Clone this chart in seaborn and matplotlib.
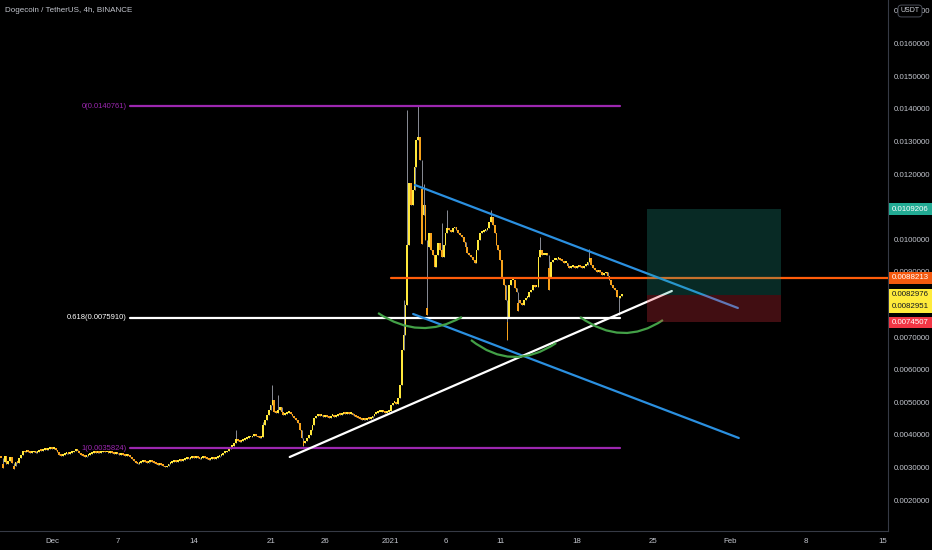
import numpy as np
import pandas as pd
import matplotlib
matplotlib.use('Agg')
import matplotlib.pyplot as plt
import matplotlib.dates as mdates
from matplotlib import transforms
from matplotlib.patches import Rectangle, PathPatch
from matplotlib.path import Path
import seaborn as sns

# DOGE/USDT 4h closes, one row per day (first row starts Nov 26 08:00)
closes = [
    0.00329, 0.00317, 0.00335, 0.00311,
    0.00320, 0.00332, 0.00314, 0.00305, 0.00317, 0.00314,  # Nov 27
    0.00329, 0.00338, 0.00351, 0.00347, 0.00354, 0.00347,
    0.00344, 0.00347, 0.00351, 0.00344, 0.00347, 0.00354,
    0.00351, 0.00354, 0.00357, 0.00354, 0.00357, 0.00360,
    0.00357, 0.00360, 0.00354, 0.00347, 0.00338, 0.00335,  # Dec 1
    0.00338, 0.00341, 0.00344, 0.00341, 0.00344, 0.00347,
    0.00351, 0.00354, 0.00351, 0.00344, 0.00338, 0.00335,
    0.00332, 0.00335, 0.00338, 0.00341, 0.00344, 0.00347,
    0.00344, 0.00347, 0.00344, 0.00347, 0.00351, 0.00347,
    0.00347, 0.00344, 0.00347, 0.00344, 0.00341, 0.00344,
    0.00341, 0.00338, 0.00341, 0.00338, 0.00335, 0.00338,  # Dec 7
    0.00335, 0.00332, 0.00326, 0.00320, 0.00314, 0.00311,
    0.00314, 0.00317, 0.00320, 0.00317, 0.00314, 0.00317,
    0.00320, 0.00317, 0.00314, 0.00311, 0.00308, 0.00311,
    0.00308, 0.00305, 0.00301, 0.00305, 0.00311, 0.00314,
    0.00317, 0.00320, 0.00317, 0.00320, 0.00323, 0.00320,
    0.00323, 0.00326, 0.00329, 0.00326, 0.00329, 0.00332,
    0.00329, 0.00332, 0.00329, 0.00326, 0.00329, 0.00332,  # Dec 14
    0.00329, 0.00326, 0.00323, 0.00326, 0.00329, 0.00326,
    0.00329, 0.00332, 0.00335, 0.00338, 0.00344, 0.00347,
    0.00351, 0.00357, 0.00363, 0.00366, 0.00375, 0.00387,
    0.00381, 0.00378, 0.00381, 0.00384, 0.00387, 0.00390,
    0.00393, 0.00393, 0.00397, 0.00400, 0.00397, 0.00393,
    0.00390, 0.00393, 0.00430, 0.00446, 0.00461, 0.00476,
    0.00492, 0.00507, 0.00470, 0.00467, 0.00476, 0.00485,  # Dec 21
    0.00470, 0.00461, 0.00464, 0.00467, 0.00470, 0.00464,
    0.00458, 0.00452, 0.00446, 0.00436, 0.00415, 0.00390,
    0.00375, 0.00381, 0.00390, 0.00400, 0.00415, 0.00430,
    0.00452, 0.00458, 0.00461, 0.00458, 0.00461, 0.00455,
    0.00458, 0.00455, 0.00452, 0.00458, 0.00461, 0.00455,
    0.00458, 0.00464, 0.00461, 0.00464, 0.00467, 0.00464,
    0.00467, 0.00464, 0.00467, 0.00461, 0.00458, 0.00455,  # Dec 28
    0.00452, 0.00449, 0.00446, 0.00449, 0.00446, 0.00452,
    0.00449, 0.00452, 0.00458, 0.00464, 0.00467, 0.00470,
    0.00470, 0.00473, 0.00470, 0.00467, 0.00470, 0.00473,
    0.00492, 0.00498, 0.00498, 0.00495, 0.00513, 0.00553,  # Jan 1
    0.00660, 0.00706, 0.00798, 0.00982, 0.01172, 0.01105,
    0.01151, 0.01222, 0.01304, 0.01314, 0.01243, 0.01074,
    0.01105, 0.00998, 0.00976, 0.01019, 0.00967, 0.00952,
    0.00915, 0.00952, 0.00988, 0.00967, 0.00946, 0.00982,
    0.01019, 0.01034, 0.01028, 0.01022, 0.01034, 0.01038,
    0.01028, 0.01019, 0.01013, 0.01007, 0.00992, 0.00976,
    0.00958, 0.00952, 0.00946, 0.00936, 0.00927, 0.00967,  # Jan 8
    0.00998, 0.01019, 0.01022, 0.01025, 0.01028, 0.01034,
    0.01053, 0.01068, 0.01044, 0.01019, 0.00982, 0.00967,
    0.00936, 0.00884, 0.00860, 0.00814, 0.00758, 0.00860,
    0.00875, 0.00875, 0.00850, 0.00838, 0.00814, 0.00804,
    0.00798, 0.00814, 0.00820, 0.00823, 0.00838, 0.00844,
    0.00860, 0.00854, 0.00854, 0.00946, 0.00967, 0.00952,
    0.00952, 0.00958, 0.00952, 0.00884, 0.00930, 0.00936,  # Jan 15
    0.00936, 0.00939, 0.00942, 0.00936, 0.00933, 0.00927,
    0.00927, 0.00918, 0.00912, 0.00915, 0.00918, 0.00912,
    0.00915, 0.00918, 0.00915, 0.00912, 0.00918, 0.00921,
    0.00930, 0.00942, 0.00921, 0.00912, 0.00906, 0.00900,
    0.00906, 0.00900, 0.00890, 0.00896, 0.00900, 0.00887,
    0.00875, 0.00860, 0.00850, 0.00844, 0.00823, 0.00820,
    0.00826, 0.0082976,  # Jan 22
]
first_open = 0.00330

wick_high = {
    '2020-12-17 20:00': 0.00415, '2020-12-20 08:00': 0.00440,
    '2020-12-21 04:00': 0.00553, '2020-12-21 16:00': 0.00522,
    '2021-01-02 04:00': 0.00815, '2021-01-02 12:00': 0.01396,
    '2021-01-03 12:00': 0.0140761, '2021-01-04 00:00': 0.01170,
    '2021-01-05 16:00': 0.01050, '2021-01-06 04:00': 0.01090,
    '2021-01-10 04:00': 0.01090, '2021-01-14 16:00': 0.01007,
    '2021-01-19 04:00': 0.00970,
}
wick_low = {
    '2020-11-26 12:00': 0.00299, '2020-11-27 12:00': 0.00295,
    '2020-12-24 00:00': 0.00366, '2021-01-03 20:00': 0.00985,
    '2021-01-04 08:00': 0.00768, '2021-01-11 16:00': 0.00691,
    '2021-01-12 16:00': 0.00781, '2021-01-15 12:00': 0.00844,
    '2021-01-21 20:00': 0.00768,
}

fib_names = ['0', '0.618', '1']
fib_prices = [0.0140761, 0.0075910, 0.0035824]
fib_span = ['2020-12-08 03:00', '2021-01-22 00:00']

hline_price = 0.0088213
hline_start = '2021-01-01 01:00'

# trend lines: (start date, start price, end date, end price)
blue_upper = ('2021-01-03 05:00', 0.011663, '2021-02-01 18:00', 0.007891)
blue_lower = ('2021-01-03 01:00', 0.007707, '2021-02-01 20:00', 0.003904)
white_rise = ('2020-12-22 18:00', 0.003321, '2021-01-26 17:00', 0.008412)

# arcs: left end, lowest point, right end
arcs = [
    [('2020-12-30 20:00', 0.007737), ('2021-01-03 16:00', 0.007277), ('2021-01-07 12:00', 0.007615)],
    [('2021-01-08 08:00', 0.006909), ('2021-01-12 04:00', 0.006388), ('2021-01-16 03:00', 0.006817)],
    [('2021-01-18 07:30', 0.007615), ('2021-01-22 03:30', 0.007124), ('2021-01-25 21:30', 0.007522)],
]

pos_span = ['2021-01-24 10:00', '2021-02-05 17:00']
pos_target, pos_entry, pos_stop = 0.0109206, 0.0082976, 0.0074507
last_prices = [0.0082976, 0.0082951]

tick_days = ['2020-12-01', '2020-12-07', '2020-12-14', '2020-12-21', '2020-12-26',
             '2021-01-01', '2021-01-06', '2021-01-11', '2021-01-18', '2021-01-25',
             '2021-02-01', '2021-02-08', '2021-02-15']
tick_labels = ['Dec', '7', '14', '21', '26', '2021', '6', '11', '18', '25', 'Feb', '8', '15']
price_ticks = [0.002, 0.003, 0.004, 0.005, 0.006, 0.007, 0.008, 0.009, 0.010,
               0.011, 0.012, 0.013, 0.014, 0.015, 0.016, 0.017]

BG = '#000000'
TXT = '#c3c6ce'
sns.set_theme(style='dark', rc={'axes.facecolor': BG, 'figure.facecolor': BG,
                                'axes.edgecolor': '#2a2e39', 'axes.grid': False})
plt.rcParams['font.family'] = ['Liberation Sans', 'DejaVu Sans']
FS = 5.7

fig = plt.figure(figsize=(9.32, 5.5), dpi=100)
ax = fig.add_axes([0, 19 / 550, 888 / 932, 531 / 550])


def dn(s):
    return mdates.date2num(pd.Timestamp(s))


dates = pd.date_range('2020-11-26 08:00', periods=len(closes), freq='4h')
x = mdates.date2num(dates)
c = np.array(closes)
o = np.concatenate([[first_open], c[:-1]])
hi = np.maximum(o, c)
lo = np.minimum(o, c)
for k, v in wick_high.items():
    i = dates.get_loc(pd.Timestamp(k))
    hi[i] = max(hi[i], v)
for k, v in wick_low.items():
    i = dates.get_loc(pd.Timestamp(k))
    lo[i] = min(lo[i], v)

up = c >= o
cols = np.where(up, '#ffe83b', '#f7a21b')
ax.vlines(x, lo, hi, color='#8a8d96', linewidth=0.7, zorder=2)
ax.bar(x, np.maximum(np.abs(c - o), 0.00005), bottom=lo, width=0.16,
       color=cols, linewidth=0, zorder=3)

# fib levels
fib_cols = ['#9c27b0', '#ffffff', '#9c27b0']
for name, p, col in zip(fib_names, fib_prices, fib_cols):
    ax.plot([dn(fib_span[0]), dn(fib_span[1])], [p, p], color=col, lw=1.6, zorder=4)
    ax.text(dn(fib_span[0]) - 0.3, p, f'{name}({p:.7f})', color=col, fontsize=5.5,
            ha='right', va='center', zorder=6)

# horizontal level
ax.plot([dn(hline_start), dn('2021-02-20')], [hline_price, hline_price],
        color='#ff5d0a', lw=1.6, zorder=4)

for ln, col in [(blue_upper, '#2b90e0'), (blue_lower, '#2b90e0'), (white_rise, '#ffffff')]:
    df = pd.DataFrame({'x': [dn(ln[0]), dn(ln[2])], 'y': [ln[1], ln[3]]})
    sns.lineplot(data=df, x='x', y='y', ax=ax, color=col, lw=1.6, zorder=4,
                 estimator=None, sort=False)

for arc in arcs:
    p0 = np.array([dn(arc[0][0]), arc[0][1]])
    pm = np.array([dn(arc[1][0]), arc[1][1]])
    p2 = np.array([dn(arc[2][0]), arc[2][1]])
    ctrl = 2 * pm - 0.5 * (p0 + p2)
    path = Path([p0, ctrl, p2], [Path.MOVETO, Path.CURVE3, Path.CURVE3])
    ax.add_patch(PathPatch(path, fill=False, edgecolor='#43a047', lw=1.6, zorder=4))

# long position box
bx0, bx1 = dn(pos_span[0]), dn(pos_span[1])
ax.add_patch(Rectangle((bx0, pos_entry), bx1 - bx0, pos_target - pos_entry,
                       facecolor='#22ab94', alpha=0.25, lw=0, zorder=5))
ax.add_patch(Rectangle((bx0, pos_stop), bx1 - bx0, pos_entry - pos_stop,
                       facecolor='#f23645', alpha=0.27, lw=0, zorder=5))

# axes range and ticks
ax.set_xlim(dn('2020-12-01') - 52 / 10.93, dn('2020-12-01') + 836 / 10.93)
ax.set_ylim(0.017337 - 531 * 0.00003067, 0.017337)
ax.set_xticks([dn(d) for d in tick_days])
ax.set_xticklabels(tick_labels, color=TXT, fontsize=FS)
ax.yaxis.tick_right()
ax.set_yticks(price_ticks)
ax.set_yticklabels([f'{p:.7f}' for p in price_ticks], color=TXT, fontsize=FS)
ax.tick_params(axis='both', length=0)
ax.tick_params(axis='y', pad=4)
ax.tick_params(axis='x', pad=5)
ax.set_xlabel('')
ax.set_ylabel('')
for side in ['top', 'left']:
    ax.spines[side].set_visible(False)
ax.spines['right'].set_color('#363a45')
ax.spines['bottom'].set_color('#363a45')
ax.spines['right'].set_linewidth(0.8)
ax.spines['bottom'].set_linewidth(0.8)

# price labels on the scale
trans = transforms.blended_transform_factory(fig.transFigure, ax.transData)
ppx = 0.00003067
lab_x0, lab_w = 889 / 932, 43 / 932


def price_tag(p, bg, fg, text_ps, h_px=12):
    top = max(text_ps) + h_px / 2 * ppx
    bot = min(text_ps) - h_px / 2 * ppx
    ax.add_patch(Rectangle((lab_x0, bot), lab_w, top - bot, transform=trans,
                           facecolor=bg, lw=0, clip_on=False, zorder=10))
    for tp, s in zip(text_ps, p):
        ax.text(lab_x0 + 3 / 932, tp, s, transform=trans, color=fg, fontsize=FS,
                va='center', ha='left', clip_on=False, zorder=11)


price_tag([f'{pos_target:.7f}'], '#22ab94', '#ffffff', [pos_target])
price_tag([f'{hline_price:.7f}'], '#f4590e', '#ffffff', [hline_price])
price_tag([f'{v:.7f}' for v in last_prices], '#ffeb3b', '#131722',
          [last_prices[0], last_prices[0] - 12 * ppx])
price_tag([f'{pos_stop:.7f}'], '#f23645', '#ffffff', [pos_stop], h_px=11)

fig.text(5 / 932, 1 - 11 / 550, 'Dogecoin / TetherUS, 4h, BINANCE', color=TXT,
         fontsize=5.8, va='center', ha='left')
fig.text(910 / 932, 1 - 11 / 550, 'USDT', color='#d1d4dc', fontsize=5.0,
         va='center', ha='center',
         bbox=dict(boxstyle='round,pad=0.35,rounding_size=0.5', facecolor=BG,
                   edgecolor='#4a4e59', lw=0.7), zorder=12)

fig.savefig('out.png', dpi=100, facecolor=BG)
